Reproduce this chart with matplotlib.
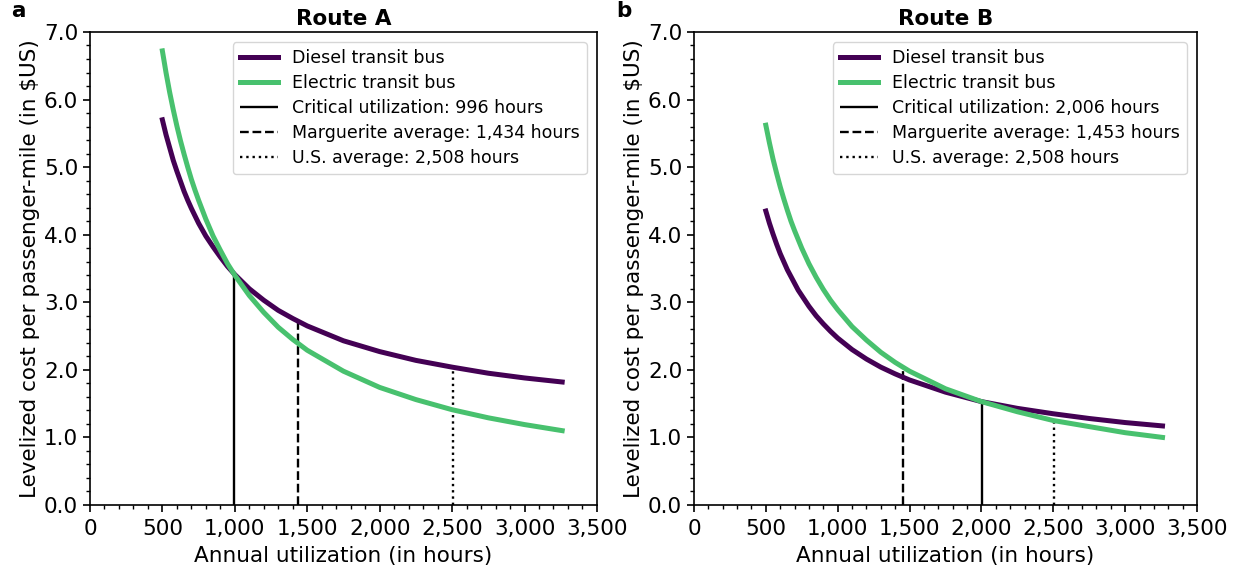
from __future__ import annotations

import matplotlib

matplotlib.use("Agg")
import matplotlib.pyplot as plt
from matplotlib.ticker import FuncFormatter, MultipleLocator

# values
HOURS = [500, 525, 550, 575, 600, 625, 650, 675, 700, 725, 750, 800, 850, 900, 950, 1000,
         1100, 1200, 1300, 1400, 1500, 1750, 2000, 2250, 2500, 2750, 3000, 3260]

A_DIESEL = [5.70, 5.48, 5.29, 5.10, 4.94, 4.79, 4.64, 4.51, 4.39, 4.28, 4.17, 3.98, 3.82,
            3.67, 3.53, 3.41, 3.20, 3.03, 2.88, 2.76, 2.65, 2.43, 2.27, 2.14, 2.04, 1.95,
            1.88, 1.82]
A_ELECTRIC = [6.72, 6.40, 6.11, 5.85, 5.61, 5.39, 5.19, 5.00, 4.82, 4.66, 4.51, 4.23, 3.98,
              3.77, 3.57, 3.40, 3.10, 2.85, 2.63, 2.45, 2.29, 1.98, 1.74, 1.56, 1.41, 1.29,
              1.19, 1.10]
B_DIESEL = [4.35, 4.17, 4.01, 3.86, 3.72, 3.60, 3.48, 3.38, 3.28, 3.18, 3.10, 2.94, 2.80,
            2.68, 2.57, 2.47, 2.30, 2.16, 2.04, 1.94, 1.85, 1.67, 1.53, 1.43, 1.35, 1.28,
            1.22, 1.17]
B_ELECTRIC = [5.62, 5.36, 5.12, 4.91, 4.71, 4.53, 4.36, 4.20, 4.06, 3.93, 3.80, 3.57, 3.37,
              3.19, 3.03, 2.89, 2.64, 2.44, 2.26, 2.11, 1.98, 1.72, 1.53, 1.38, 1.25, 1.16,
              1.07, 1.00]

# reference lines: (hours, top of line)
A_MARKS = [(996, 3.42), (1434, 2.72), (2508, 2.03)]
B_MARKS = [(2006, 1.53), (1453, 2.04), (2508, 1.25)]
MARK_LABELS = ["Critical utilization", "Marguerite average", "U.S. average"]
MARK_STYLES = ["-", "--", ":"]

DIESEL_COLOR = "#440154"
ELECTRIC_COLOR = "#48c16e"
FONT_SIZE = 15.5


def _draw_panel(ax, title, letter, diesel, electric, marks):
    for (hours, top), label, style in zip(marks, MARK_LABELS, MARK_STYLES):
        ax.vlines(hours, 0, top, colors="black", linestyles=style, linewidth=1.7,
                  label=f"{label}: {hours:,} hours", zorder=2)
    ax.plot(HOURS, diesel, color=DIESEL_COLOR, linewidth=3.6, label="Diesel transit bus",
            solid_joinstyle="round", zorder=3)
    ax.plot(HOURS, electric, color=ELECTRIC_COLOR, linewidth=3.6, label="Electric transit bus",
            solid_joinstyle="round", zorder=3)

    ax.set_xlim(0, 3500)
    ax.set_ylim(0, 7)
    ax.xaxis.set_major_locator(MultipleLocator(500))
    ax.xaxis.set_minor_locator(MultipleLocator(100))
    ax.yaxis.set_major_locator(MultipleLocator(1))
    ax.yaxis.set_minor_locator(MultipleLocator(0.2))
    ax.xaxis.set_major_formatter(FuncFormatter(lambda v, _: f"{int(v):,}"))
    ax.yaxis.set_major_formatter(FuncFormatter(lambda v, _: f"{v:.1f}"))
    ax.tick_params(axis="both", which="major", labelsize=FONT_SIZE, length=5, width=1.2)
    ax.tick_params(axis="x", which="major", pad=5)
    ax.tick_params(axis="both", which="minor", length=3, width=1.0)
    for spine in ax.spines.values():
        spine.set_linewidth(1.2)

    ax.set_xlabel("Annual utilization (in hours)", fontsize=FONT_SIZE, labelpad=5)
    ax.set_ylabel("Levelized cost per passenger-mile (in $US)", fontsize=FONT_SIZE, labelpad=3)
    ax.set_title(title, fontsize=FONT_SIZE, fontweight="bold", pad=5)
    ax.text(-0.155, 1.045, letter, transform=ax.transAxes, fontsize=FONT_SIZE, fontweight="bold",
            ha="left", va="center")

    handles, labels = ax.get_legend_handles_labels()
    order = [3, 4, 0, 1, 2]
    ax.legend([handles[i] for i in order], [labels[i] for i in order], loc="upper right",
              fontsize=12.5, handlelength=2.2, borderaxespad=0.6, labelspacing=0.4)


def main() -> int:
    fig = plt.figure(figsize=(12.39, 5.73), dpi=100)
    ax_a = fig.add_axes([0.0726, 0.1187, 0.4092, 0.8255])
    ax_b = fig.add_axes([0.5601, 0.1187, 0.4060, 0.8255])
    _draw_panel(ax_a, "Route A", "a", A_DIESEL, A_ELECTRIC, A_MARKS)
    _draw_panel(ax_b, "Route B", "b", B_DIESEL, B_ELECTRIC, B_MARKS)
    fig.savefig("out.png", dpi=100)
    plt.close(fig)
    return 0


if __name__ == "__main__":
    raise SystemExit(main())
